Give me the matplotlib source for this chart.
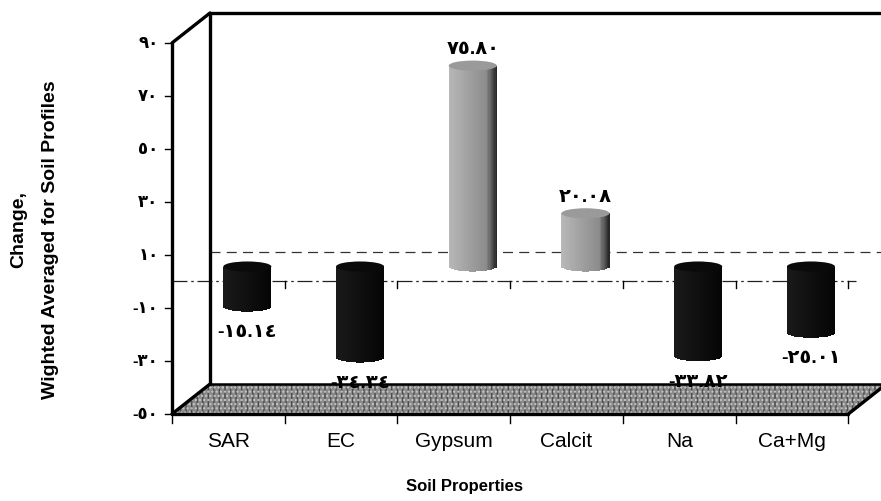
import numpy as np
import matplotlib.pyplot as plt
from matplotlib.patches import Rectangle, Ellipse, Polygon

plt.rcParams['font.family'] = ['Liberation Sans', 'DejaVu Sans']

# data
categories = ['SAR', 'EC', 'Gypsum', 'Calcit', 'Na', 'Ca+Mg']
values = [-15.14, -34.34, 75.80, 20.08, -33.82, -25.01]
y_ticks = [90, 70, 50, 30, 10, -10, -30, -50]

AR = str.maketrans('0123456789', '٠١٢٣٤٥٦٧٨٩')


def arabic(v, fmt):
    return format(v, fmt).translate(AR)


fig = plt.figure(figsize=(8.81, 5.02), dpi=100)
fig.patch.set_facecolor('white')

# front plane spans categories 0..6, values -50..90; back wall is offset
dx, dy = 0.337, 11.3
ymin, ymax = -50, 90
ax = fig.add_axes([172 / 881, 87 / 502, 709 / 881, 401 / 502])
ax.set_xlim(0, 6.29)
ax.set_ylim(ymin, ymax + dy)
ax.set_axis_off()

xr = 6.29 + 0.1

# floor
floor = Polygon([(0, ymin), (6, ymin), (6 + dx, ymin + dy), (dx, ymin + dy)],
                closed=True, facecolor='#8a8a8a', edgecolor='#4a4a4a',
                hatch='|||', lw=0, zorder=1, clip_on=False)
ax.add_patch(floor)
floor2 = Polygon([(0, ymin), (6, ymin), (6 + dx, ymin + dy), (dx, ymin + dy)],
                 closed=True, facecolor='none', edgecolor='#c8c8c8',
                 hatch='....', lw=0, zorder=1, clip_on=False)
ax.add_patch(floor2)

# box outline
lk = dict(color='black', lw=2.4, solid_capstyle='round', clip_on=False, zorder=5)
ax.plot([0, 0], [ymin, ymax], **lk)
ax.plot([dx, dx], [ymin + dy, ymax + dy], **lk)
ax.plot([0, dx], [ymax, ymax + dy], **lk)
ax.plot([dx, xr], [ymax + dy, ymax + dy], **lk)
ax.plot([0, dx], [ymin, ymin + dy], **lk)
ax.plot([0, 6], [ymin, ymin], **lk)
ax.plot([6, 6 + dx], [ymin, ymin + dy], **lk)
ax.plot([dx, xr], [ymin + dy, ymin + dy], color='black', lw=1.8, zorder=2, clip_on=False)

# gridline on back wall and zero line in front
ax.plot([dx, xr], [dy, dy], color='#333333', lw=0.9, ls=(0, (8, 5)), zorder=1, clip_on=False)
ax.plot([0, 6 + dx * 0.2], [0, 0], color='#222222', lw=0.9, ls=(0, (12, 3, 2, 3)), zorder=1)

# y ticks and labels
for t in y_ticks:
    ax.plot([-0.06, 0], [t, t], color='black', lw=1, clip_on=False)
    lab = arabic(abs(t), 'd')
    if t < 0:
        lab = '-' + lab
    ax.text(-0.12, t, lab, ha='right', va='center', fontsize=12,
            fontweight='bold', clip_on=False)

# category ticks
for i in range(7):
    ax.plot([i, i], [ymin, ymin - 3.5], color='black', lw=1, clip_on=False)
    if 0 < i < 7:
        ax.plot([i, i], [0, -2.5], color='black', lw=1)
for i, c in enumerate(categories):
    ax.text(i + 0.5, -60, c, ha='center', va='center', fontsize=15, clip_on=False)

# cylinders
w = 0.426
eh = 3.8
z0 = dy / 2
n = 40
for i, v in enumerate(values):
    xc = i + 0.5 + dx / 2
    ytop, ybot = max(z0, z0 + v), min(z0, z0 + v)
    for k in range(n):
        t = (k + 0.5) / n
        tt = 2 * t - 1
        h = eh / 2 * np.sqrt(max(0.0, 1 - tt ** 2))
        if v > 0:
            g = 0.72 - 0.22 * t if t < 0.78 else 0.55 - 1.9 * (t - 0.78)
        else:
            g = 0.10 - 0.08 * t
        ax.add_patch(Rectangle((xc - w / 2 + k * w / n, ybot - h), w / n * 1.05,
                               ytop - ybot + h, facecolor=str(max(g, 0.02)),
                               edgecolor='none', zorder=3))
    cap = '#9a9a9a' if v > 0 else '#0a0a0a'
    ax.add_patch(Ellipse((xc, ytop), w, eh, facecolor=cap, edgecolor='none', zorder=4))

    lab = arabic(abs(v), '.2f')
    if v < 0:
        lab = '-' + lab
        ax.text(xc, ybot - eh / 2 - 7.5, lab, ha='center', va='center',
                fontsize=14, fontweight='bold', zorder=6, clip_on=False)
    else:
        ax.text(xc, ytop + eh / 2 + 1.2, lab, ha='center', va='bottom',
                fontsize=14, fontweight='bold', zorder=6, clip_on=False)

# axis titles
fig.text(19 / 881, 1 - 230 / 502, 'Change,', rotation=90, ha='center', va='center',
         fontsize=14, fontweight='bold')
fig.text(51 / 881, 1 - 240 / 502, 'Wighted Averaged for Soil Profiles', rotation=90,
         ha='center', va='center', fontsize=14, fontweight='bold')
fig.text(465 / 881, 1 - 487 / 502, 'Soil Properties', ha='center', va='center',
         fontsize=12, fontweight='bold')

fig.savefig('out.png', dpi=100, facecolor='white')
